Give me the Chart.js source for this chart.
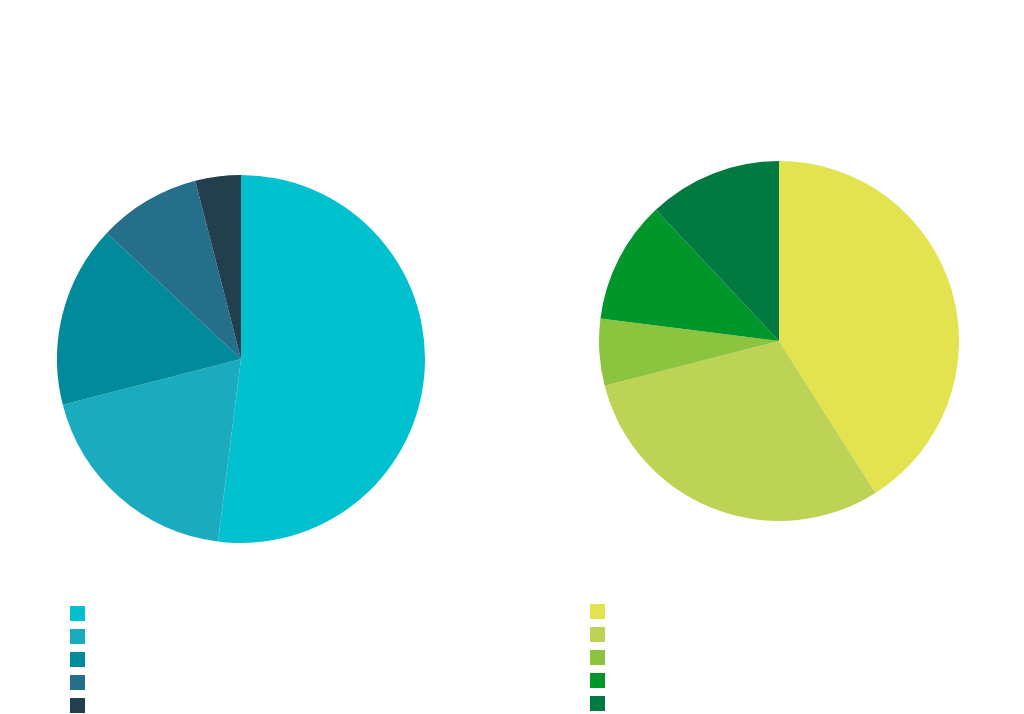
<!DOCTYPE html>
<html>
<head>
<meta charset="utf-8">
<script src="https://cdn.jsdelivr.net/npm/chart.js@4"></script>
<style>
  html, body { margin:0; padding:0; background:#ffffff; width:1024px; height:714px; overflow:hidden; font-family:"Open Sans", sans-serif; }
  .wrap { position:absolute; }
  .legend { position:absolute; margin:0; padding:0; list-style:none; }
  .legend li { height:15px; margin-bottom:8px; display:flex; align-items:center; color:#ffffff; font-size:13px; }
  .legend li span.box { width:15px; height:15px; display:inline-block; margin-right:10px; }
</style>
</head>
<body>
<div class="wrap" id="w1" style="left:57px;top:175px;width:368px;height:368px;"><canvas id="c1"></canvas></div>
<div class="wrap" id="w2" style="left:599px;top:161px;width:360px;height:360px;"><canvas id="c2"></canvas></div>
<ul class="legend" id="l1" style="left:70px;top:606px;"></ul>
<ul class="legend" id="l2" style="left:590px;top:604px;"></ul>
<script>
const leftLabels = ["Category 1", "Category 2", "Category 3", "Category 4", "Category 5"];
const leftValues = [52, 19, 16, 9, 4];
const leftColors = ["#00C1CD", "#1AABBF", "#008A9B", "#266F8A", "#223F4D"];

const rightLabels = ["Category 1", "Category 2", "Category 3", "Category 4", "Category 5"];
const rightValues = [41, 30, 6, 11, 12];
const rightColors = ["#E3E24F", "#BDD355", "#8DC43F", "#00962A", "#007A40"];

function makePie(id, labels, values, colors) {
  new Chart(document.getElementById(id), {
    type: 'pie',
    data: { labels: labels, datasets: [{ data: values, backgroundColor: colors, borderWidth: 0 }] },
    options: {
      responsive: true, maintainAspectRatio: false, animation: false,
      layout: { padding: 0 },
      plugins: { legend: { display: false }, tooltip: { enabled: false } }
    }
  });
}
function makeLegend(id, labels, colors) {
  const ul = document.getElementById(id);
  labels.forEach((l, i) => {
    const li = document.createElement('li');
    const b = document.createElement('span');
    b.className = 'box'; b.style.background = colors[i];
    li.appendChild(b);
    li.appendChild(document.createTextNode(l));
    ul.appendChild(li);
  });
}
makePie('c1', leftLabels, leftValues, leftColors);
makePie('c2', rightLabels, rightValues, rightColors);
makeLegend('l1', leftLabels, leftColors);
makeLegend('l2', rightLabels, rightColors);
</script>
</body>
</html>
